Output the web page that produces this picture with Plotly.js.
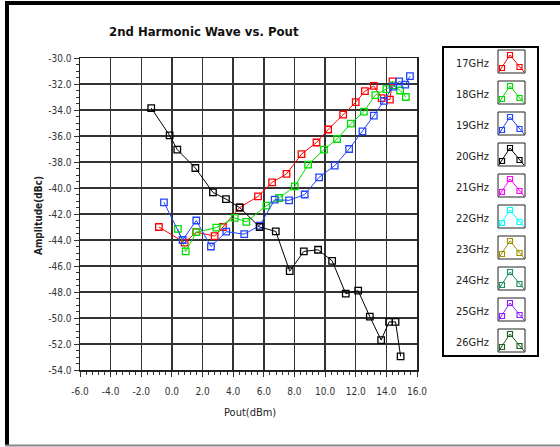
<!DOCTYPE html>
<html>
<head>
<meta charset="utf-8">
<script src="https://cdn.plot.ly/plotly-3.0.1.min.js"></script>
<style>
html,body{margin:0;padding:0;background:#fff;}
#chart{width:560px;height:447px;}
</style>
</head>
<body>
<div id="chart"></div>
<script>
// ---- data ----
const legendNames = ["17GHz","18GHz","19GHz","20GHz","21GHz","22GHz","23GHz","24GHz","25GHz","26GHz"];
const seriesColors = ["#ff0000","#00dd00","#2244ff","#000000","#ff00ff","#00ffff","#a09000","#209060","#9020ff","#206020"];

const xTickVals = [-6,-4,-2,0,2,4,6,8,10,12,14,16];
const xTickText = ["-6.0","-4.0","-2.0","0.0","2.0","4.0","6.0","8.0","10.0","12.0","14.0","16.0"];
const yTickVals = [-30,-32,-34,-36,-38,-40,-42,-44,-46,-48,-50,-52,-54];
const yTickText = ["-30.0","-32.0","-34.0","-36.0","-38.0","-40.0","-42.0","-44.0","-46.0","-48.0","-50.0","-52.0","-54.0"];

const x17 = [-0.85,0.83,1.59,2.79,3.33,4.42,5.62,6.54,7.48,8.46,9.44,10.2,11.18,12.0,12.6,13.18,13.69,14.23,14.4];
const y17 = [-43.0,-44.2,-43.4,-43.7,-43.0,-41.5,-40.65,-39.57,-38.92,-37.4,-36.5,-35.5,-34.36,-33.4,-32.55,-32.15,-33.08,-33.2,-31.8];

const x18 = [0.39,0.9,1.6,2.9,4.1,4.86,6.17,7.0,8.02,8.89,9.93,10.78,11.68,12.53,13.28,14.0,14.44,14.9,15.27];
const y18 = [-43.15,-44.88,-43.4,-43.05,-42.3,-42.6,-41.36,-40.77,-39.88,-38.2,-37.05,-36.23,-35.05,-34.13,-32.85,-32.4,-32.1,-32.5,-33.0];

const x19 = [-0.52,0.7,1.59,2.55,3.55,4.72,5.73,6.71,7.65,8.67,9.61,10.63,11.57,12.44,13.18,13.84,14.44,14.84,15.23,15.54];
const y19 = [-41.1,-44.0,-42.5,-44.5,-43.36,-43.55,-42.9,-40.9,-40.95,-40.5,-39.18,-38.28,-37.0,-35.65,-34.44,-33.3,-32.2,-31.8,-32.05,-31.4];

const x20 = [-1.35,-0.15,0.35,1.53,2.68,3.53,4.42,5.73,6.78,7.69,8.61,9.54,10.46,11.35,12.16,12.92,13.66,14.18,14.6,14.93];
const y20 = [-33.85,-35.95,-37.05,-38.46,-40.34,-40.85,-41.5,-43.0,-43.34,-46.4,-44.88,-44.75,-45.6,-48.13,-47.9,-49.9,-51.7,-50.3,-50.3,-52.95];

const seriesX = [x17,x18,x19,x20];
const seriesY = [y17,y18,y19,y20];

// ---- layout geometry ----
const FW = 560, FH = 447;
const ML = 80, MR = 143, MT = 58, MB = 77;
const PW = FW - ML - MR, PH = FH - MT - MB;
const px = v => (v - ML) / PW;
const py = v => (FH - MB - v) / PH;
const FONT = "'DejaVu Sans Condensed','Liberation Sans Narrow','Arial Narrow',sans-serif";

const traces = seriesX.map((xs, i) => ({
  type: 'scatter', mode: 'lines+markers', name: legendNames[i],
  x: xs, y: seriesY[i],
  line: {color: seriesColors[i], width: 1},
  marker: {symbol: 'square-open', size: 6.5, color: seriesColors[i], line: {width: 1.3, color: seriesColors[i]}},
  showlegend: false, cliponaxis: false
}));

const shapes = [];
const annotations = [];

// outer frame
shapes.push({type:'line', xref:'paper', yref:'paper', x0:px(7), x1:px(7), y0:py(2), y1:py(446), line:{color:'#000', width:4}});
shapes.push({type:'line', xref:'paper', yref:'paper', x0:px(5), x1:px(560), y0:py(3), y1:py(3), line:{color:'#000', width:4}});
shapes.push({type:'line', xref:'paper', yref:'paper', x0:px(5), x1:px(560), y0:py(445.5), y1:py(445.5), line:{color:'#888', width:2}});

// legend box
shapes.push({type:'rect', xref:'paper', yref:'paper', x0:px(443), x1:px(538), y0:py(47), y1:py(356), line:{color:'#000', width:2}, fillcolor:'rgba(0,0,0,0)'});
legendNames.forEach((nm, i) => {
  const cy = 62 + i * 31;
  const c = seriesColors[i];
  shapes.push({type:'rect', xref:'paper', yref:'paper', x0:px(498), x1:px(525), y0:py(cy-12), y1:py(cy+11), line:{color:'#222', width:1}, fillcolor:'#fff'});
  shapes.push({type:'path', xref:'paper', yref:'paper',
    path:`M ${px(499)} ${py(cy+10)} L ${px(502)} ${py(cy+5)} L ${px(510)} ${py(cy-7)} L ${px(519)} ${py(cy+4)} L ${px(524)} ${py(cy+10)}`,
    line:{color:c, width:1}});
  [[502, cy+6],[510, cy-7],[519.5, cy+5]].forEach(p => {
    shapes.push({type:'rect', xref:'paper', yref:'paper', x0:px(p[0]-2.5), x1:px(p[0]+2.5), y0:py(p[1]-2.5), y1:py(p[1]+2.5), line:{color:c, width:1.2}, fillcolor:'rgba(0,0,0,0)'});
  });
  annotations.push({xref:'paper', yref:'paper', x:px(472), y:py(cy+1), text:nm, showarrow:false, xanchor:'center', yanchor:'middle', font:{family:FONT, size:11, color:'#222'}});
});

// title
annotations.push({xref:'paper', yref:'paper', x:px(107), y:py(31), text:'2nd Harmonic Wave vs. Pout', showarrow:false, xanchor:'left', yanchor:'middle', font:{family:FONT, size:13, color:'#111', weight:'bold'}});
// axis titles
annotations.push({xref:'paper', yref:'paper', x:px(250), y:py(412), text:'Pout(dBm)', showarrow:false, xanchor:'center', yanchor:'middle', font:{family:FONT, size:11, color:'#222'}});
annotations.push({xref:'paper', yref:'paper', x:px(38), y:py(216), text:'Amplitude(dBc)', textangle:-90, showarrow:false, xanchor:'center', yanchor:'middle', font:{family:FONT, size:10, color:'#222', weight:'bold'}});

const layout = {
  width: FW, height: FH,
  margin: {l: ML, r: MR, t: MT, b: MB, pad: 0},
  paper_bgcolor: '#fff', plot_bgcolor: '#fff',
  showlegend: false,
  xaxis: {
    range: [-6, 16], tickmode: 'array', tickvals: xTickVals, ticktext: xTickText,
    showgrid: true, gridcolor: '#333', gridwidth: 1.5, zeroline: false,
    showline: true, linecolor: '#222', linewidth: 1.5, mirror: true,
    ticks: 'outside', ticklen: 5, tickwidth: 1, tickcolor: '#333', ticklabelstandoff: 6,
    minor: {tick0: -6, dtick: 0.4, ticks: 'outside', ticklen: 3, tickcolor: '#333', showgrid: false},
    tickfont: {family: FONT, size: 10, color: '#333'}, fixedrange: true
  },
  yaxis: {
    range: [-54, -30], tickmode: 'array', tickvals: yTickVals, ticktext: yTickText,
    showgrid: true, gridcolor: '#333', gridwidth: 1.5, zeroline: false,
    showline: true, linecolor: '#222', linewidth: 1.5, mirror: true,
    ticks: 'outside', ticklen: 5, tickwidth: 1, tickcolor: '#333',
    minor: {tick0: -54, dtick: 0.5, ticks: 'outside', ticklen: 3, tickcolor: '#333', showgrid: false},
    tickfont: {family: FONT, size: 10, color: '#333'}, fixedrange: true
  },
  shapes: shapes,
  annotations: annotations
};

Plotly.newPlot('chart', traces, layout, {displayModeBar: false, staticPlot: true});
</script>
</body>
</html>
